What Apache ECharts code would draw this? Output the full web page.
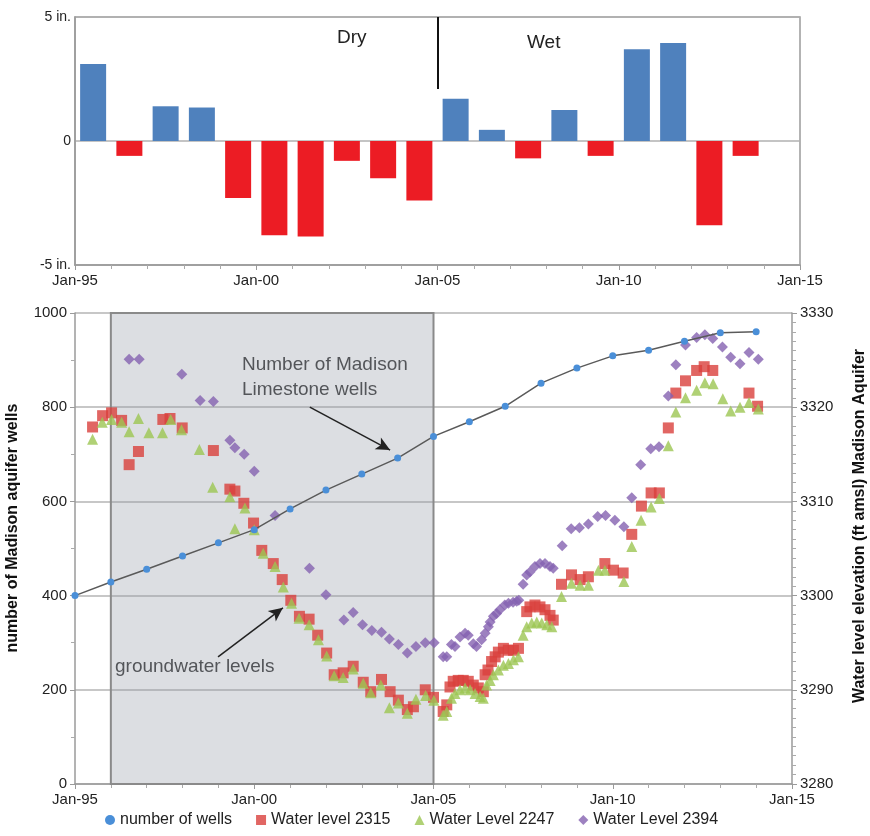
<!DOCTYPE html>
<html>
<head>
<meta charset="utf-8">
<script src="https://cdn.jsdelivr.net/npm/echarts@6/dist/echarts.min.js"></script>
<style>
  html, body { margin: 0; padding: 0; background: #fff; }
  #chart { width: 870px; height: 836px; }
</style>
</head>
<body>
<div id="chart"></div>
<script>
// precipitation departure (in.), one bar per year, centred in the year
var rainYears = [1995, 1996, 1997, 1998, 1999, 2000, 2001, 2002, 2003, 2004,
  2005, 2006, 2007, 2008, 2009, 2010, 2011, 2012, 2013];
var rainDeparture = [3.1, -0.6, 1.4, 1.35, -2.3, -3.8, -3.85, -0.8, -1.5, -2.4,
  1.7, 0.45, -0.7, 1.25, -0.6, 3.7, 3.95, -3.4, -0.6];

// number of Madison Limestone wells (left axis)
var wellYears = [1995, 1996, 1997, 1998, 1999, 2000, 2001, 2002, 2003, 2004,
  2005, 2006, 2007, 2008, 2009, 2010, 2011, 2012, 2013, 2014];
var wellCounts = [400, 429, 456, 484, 512, 540, 584, 624, 658, 692,
  738, 769, 802, 851, 883, 909, 921, 940, 958, 960];

// water levels, [decimal year, ft amsl] (right axis)
var level2315 = [
  [1995.49, 3317.9], [1995.77, 3319.1], [1996.02, 3319.4], [1996.3, 3318.6], [1996.51, 3313.9],
  [1996.77, 3315.3], [1997.45, 3318.7], [1997.65, 3318.8], [1997.99, 3317.8], [1998.86, 3315.4],
  [1999.32, 3311.3], [1999.46, 3311.1], [1999.71, 3309.8], [1999.98, 3307.7], [2000.21, 3304.8],
  [2000.53, 3303.4], [2000.78, 3301.7], [2001.02, 3299.5], [2001.26, 3297.8], [2001.53, 3297.5],
  [2001.77, 3295.8], [2002.02, 3293.9], [2002.23, 3291.6], [2002.48, 3291.8], [2002.76, 3292.5],
  [2003.04, 3290.8], [2003.25, 3289.8], [2003.55, 3291.1], [2003.79, 3289.8], [2004.02, 3288.9],
  [2004.27, 3287.9], [2004.44, 3288.2], [2004.77, 3290.0], [2005.0, 3289.2], [2005.27, 3287.7],
  [2005.37, 3288.4], [2005.46, 3290.3], [2005.55, 3290.9], [2005.69, 3291.0], [2005.83, 3291.0],
  [2005.97, 3290.9], [2006.11, 3290.5], [2006.25, 3290.2], [2006.39, 3289.8], [2006.44, 3291.6],
  [2006.52, 3292.1], [2006.62, 3293.0], [2006.72, 3293.5], [2006.81, 3294.0], [2006.95, 3294.4],
  [2007.09, 3294.2], [2007.23, 3294.2], [2007.37, 3294.4], [2007.6, 3298.3], [2007.69, 3298.8],
  [2007.83, 3299.0], [2007.97, 3298.8], [2008.11, 3298.5], [2008.25, 3297.9], [2008.34, 3297.4],
  [2008.57, 3301.2], [2008.85, 3302.2], [2009.09, 3301.7], [2009.32, 3302.0], [2009.78, 3303.4],
  [2010.02, 3302.7], [2010.29, 3302.4], [2010.53, 3306.5], [2010.8, 3309.5], [2011.07, 3310.9],
  [2011.3, 3310.9], [2011.55, 3317.8], [2011.76, 3321.5], [2012.03, 3322.8], [2012.34, 3323.9],
  [2012.55, 3324.3], [2012.79, 3323.9], [2013.8, 3321.5], [2014.04, 3320.1]
];
var level2247 = [
  [1995.49, 3316.6], [1995.76, 3318.4], [1996.02, 3318.7], [1996.3, 3318.4], [1996.51, 3317.4],
  [1996.77, 3318.8], [1997.06, 3317.3], [1997.44, 3317.3], [1997.67, 3318.7], [1997.97, 3317.6],
  [1998.47, 3315.5], [1998.84, 3311.5], [1999.32, 3310.5], [1999.46, 3307.1], [1999.74, 3309.3],
  [2000.0, 3307.0], [2000.25, 3304.5], [2000.58, 3303.1], [2000.81, 3300.9], [2001.04, 3299.2],
  [2001.25, 3297.6], [2001.53, 3296.9], [2001.79, 3295.3], [2002.02, 3293.6], [2002.23, 3291.5],
  [2002.48, 3291.3], [2002.76, 3292.2], [2003.04, 3290.7], [2003.25, 3289.7], [2003.53, 3290.5],
  [2003.77, 3288.1], [2004.02, 3288.6], [2004.27, 3287.5], [2004.51, 3289.0], [2004.78, 3289.4],
  [2005.01, 3288.9], [2005.27, 3287.3], [2005.37, 3287.7], [2005.5, 3289.1], [2005.6, 3289.6],
  [2005.74, 3290.0], [2005.88, 3290.2], [2006.02, 3290.0], [2006.16, 3289.6], [2006.3, 3289.3],
  [2006.39, 3289.1], [2006.48, 3290.5], [2006.58, 3291.0], [2006.67, 3291.6], [2006.81, 3292.1],
  [2006.95, 3292.6], [2007.09, 3292.8], [2007.23, 3293.2], [2007.37, 3293.5], [2007.5, 3295.8],
  [2007.6, 3296.7], [2007.74, 3297.1], [2007.88, 3297.2], [2008.02, 3297.1], [2008.16, 3296.9],
  [2008.3, 3296.7], [2008.57, 3299.9], [2008.85, 3301.3], [2009.09, 3301.1], [2009.32, 3301.1],
  [2009.6, 3302.7], [2009.78, 3302.7], [2010.31, 3301.5], [2010.53, 3305.2], [2010.79, 3308.0],
  [2011.07, 3309.4], [2011.3, 3310.3], [2011.55, 3315.9], [2011.76, 3319.5], [2012.03, 3321.0],
  [2012.34, 3321.8], [2012.57, 3322.6], [2012.8, 3322.5], [2013.07, 3320.9], [2013.29, 3319.6],
  [2013.55, 3320.0], [2013.8, 3320.5], [2014.06, 3319.8]
];
var level2394 = [
  [1996.51, 3325.1], [1996.79, 3325.1], [1997.98, 3323.5], [1998.49, 3320.7], [1998.86, 3320.6],
  [1999.32, 3316.5], [1999.46, 3315.7], [1999.72, 3315.0], [2000.0, 3313.2], [2000.58, 3308.5],
  [2001.54, 3302.9], [2002.0, 3300.1], [2002.5, 3297.4], [2002.76, 3298.2], [2003.02, 3296.9],
  [2003.28, 3296.3], [2003.55, 3296.1], [2003.77, 3295.4], [2004.02, 3294.8], [2004.27, 3293.9],
  [2004.51, 3294.6], [2004.77, 3295.0], [2005.02, 3295.0], [2005.27, 3293.5], [2005.37, 3293.5],
  [2005.5, 3294.8], [2005.6, 3294.6], [2005.74, 3295.6], [2005.88, 3296.0], [2005.97, 3295.8],
  [2006.11, 3294.9], [2006.2, 3294.6], [2006.34, 3295.3], [2006.44, 3296.0], [2006.53, 3296.7],
  [2006.58, 3297.2], [2006.67, 3297.8], [2006.76, 3298.1], [2006.85, 3298.5], [2006.99, 3299.0],
  [2007.09, 3299.2], [2007.22, 3299.3], [2007.32, 3299.4], [2007.38, 3299.5], [2007.5, 3301.2],
  [2007.6, 3302.2], [2007.69, 3302.5], [2007.83, 3303.1], [2007.97, 3303.4], [2008.11, 3303.4],
  [2008.25, 3303.1], [2008.34, 3302.9], [2008.59, 3305.3], [2008.84, 3307.1], [2009.07, 3307.2],
  [2009.32, 3307.6], [2009.58, 3308.4], [2009.8, 3308.5], [2010.06, 3308.0], [2010.31, 3307.3],
  [2010.53, 3310.4], [2010.78, 3313.9], [2011.06, 3315.6], [2011.29, 3315.8], [2011.55, 3321.2],
  [2011.76, 3324.5], [2012.03, 3326.6], [2012.34, 3327.4], [2012.57, 3327.7], [2012.79, 3327.3],
  [2013.06, 3326.4], [2013.29, 3325.3], [2013.55, 3324.6], [2013.8, 3325.8], [2014.06, 3325.1]
];

var xTicks = { 1995: 'Jan-95', 2000: 'Jan-00', 2005: 'Jan-05', 2010: 'Jan-10', 2015: 'Jan-15' };
var FONT = 'Liberation Sans';

var chart = echarts.init(document.getElementById('chart'));

var barData = rainYears.map(function (y, i) {
  var v = rainDeparture[i];
  return { value: [y + 0.5, v], itemStyle: { color: v >= 0 ? '#4f81bd' : '#ec1c24' } };
});

function plain(v) { return String(v); }

function timeAxis(gridIndex) {
  return {
    type: 'value', gridIndex: gridIndex, min: 1995, max: 2015, interval: 5,
    axisLine: { onZero: false, lineStyle: { color: '#9a9a9a', width: 1.5 } },
    axisTick: { show: true, length: 5, lineStyle: { color: '#9a9a9a' } },
    minorTick: { show: true, splitNumber: 5, length: 4, lineStyle: { color: '#aaa' } },
    splitLine: { show: false },
    axisLabel: {
      color: '#222', fontFamily: FONT, fontSize: 15, margin: 8,
      formatter: function (v) { return xTicks[v] || ''; }
    }
  };
}

var option = {
  animation: false,
  backgroundColor: '#fff',
  textStyle: { fontFamily: FONT },
  grid: [
    { left: 75, right: 70, top: 17, height: 248, show: true, borderColor: '#9a9a9a', borderWidth: 1.5, outerBoundsMode: 'none' },
    { left: 75, right: 78, top: 313, bottom: 52, outerBoundsMode: 'none' }
  ],
  xAxis: [timeAxis(0), timeAxis(1)],
  yAxis: [
    {
      type: 'value', gridIndex: 0, min: -5, max: 5, interval: 5,
      axisLine: { show: true, lineStyle: { color: '#9a9a9a', width: 1.5 } },
      axisTick: { show: false },
      splitLine: { show: true, lineStyle: { color: '#b0b0b0', width: 1.5 } },
      axisLabel: {
        color: '#222', fontFamily: FONT, fontSize: 14, margin: 4,
        formatter: function (v) { return v === 0 ? '0' : v + ' in.'; }
      }
    },
    {
      type: 'value', gridIndex: 1, min: 0, max: 1000, interval: 200,
      axisLine: { show: true, lineStyle: { color: '#9a9a9a', width: 1.5 } },
      axisTick: { show: true, length: 5, lineStyle: { color: '#9a9a9a' } },
      minorTick: { show: true, splitNumber: 2, length: 4, lineStyle: { color: '#aaa' } },
      splitLine: { show: true, lineStyle: { color: '#b5b5b5', width: 1.5 } },
      axisLabel: { color: '#222', fontFamily: FONT, fontSize: 15, margin: 8, formatter: plain }
    },
    {
      type: 'value', gridIndex: 1, min: 3280, max: 3330, interval: 10, position: 'right',
      axisLine: { show: true, lineStyle: { color: '#9a9a9a', width: 1.5 } },
      axisTick: { show: true, length: 5, lineStyle: { color: '#9a9a9a' } },
      minorTick: { show: true, splitNumber: 10, length: 4, lineStyle: { color: '#aaa' } },
      splitLine: { show: false },
      axisLabel: { color: '#222', fontFamily: FONT, fontSize: 15, margin: 8, formatter: plain }
    }
  ],
  legend: {
    bottom: 3, left: 100, itemWidth: 10, itemHeight: 10, itemGap: 24,
    textStyle: { color: '#222', fontFamily: FONT, fontSize: 16 },
    data: [
      { name: 'number of wells', icon: 'circle' },
      { name: 'Water level 2315', icon: 'rect' },
      { name: 'Water Level 2247', icon: 'triangle' },
      { name: 'Water Level 2394', icon: 'diamond' }
    ]
  },
  series: [
    {
      name: 'precipitation', type: 'bar', xAxisIndex: 0, yAxisIndex: 0,
      barWidth: 26, data: barData,
      markLine: {
        silent: true, symbol: ['none', 'none'], label: { show: false },
        lineStyle: { color: '#111', width: 2, type: 'solid' },
        data: [[{ coord: [2005, 5] }, { coord: [2005, 2.1] }]]
      }
    },
    {
      name: 'Water level 2315', type: 'scatter', xAxisIndex: 1, yAxisIndex: 2,
      symbol: 'rect', symbolSize: 11, itemStyle: { color: '#d9403c' }, data: level2315,
      markArea: {
        silent: true,
        itemStyle: { color: 'rgba(150,155,168,0.33)', borderColor: '#8a8a8a', borderWidth: 2 },
        data: [[{ coord: [1996, 3280] }, { coord: [2005, 3330] }]]
      }
    },
    {
      name: 'Water Level 2247', type: 'scatter', xAxisIndex: 1, yAxisIndex: 2,
      symbol: 'triangle', symbolSize: 11, itemStyle: { color: '#9cc653' }, data: level2247
    },
    {
      name: 'Water Level 2394', type: 'scatter', xAxisIndex: 1, yAxisIndex: 2,
      symbol: 'diamond', symbolSize: 11, itemStyle: { color: '#8462b0' }, data: level2394
    },
    {
      name: 'number of wells', type: 'line', xAxisIndex: 1, yAxisIndex: 1,
      symbol: 'circle', symbolSize: 7, showSymbol: true,
      lineStyle: { color: '#5a5a5a', width: 1.5 },
      itemStyle: { color: '#4a8fd8' },
      data: wellYears.map(function (y, i) { return [y, wellCounts[i]]; }),
      markLine: {
        silent: true, symbol: ['none', 'arrow'], symbolSize: [10, 14], label: { show: false },
        lineStyle: { color: '#222', width: 1.5, type: 'solid' },
        data: [
          [{ coord: [2001.55, 800] }, { coord: [2003.79, 709] }],
          [{ coord: [1998.99, 270] }, { coord: [2000.8, 374] }]
        ]
      }
    }
  ],
  graphic: [
    { type: 'text', left: 337, top: 28, style: { text: 'Dry', fontFamily: FONT, fontSize: 19, fill: '#222' } },
    { type: 'text', left: 527, top: 33, style: { text: 'Wet', fontFamily: FONT, fontSize: 19, fill: '#222' } },
    { type: 'text', left: 242, top: 352, style: { text: 'Number of Madison\nLimestone wells', lineHeight: 25, fontFamily: FONT, fontSize: 19, fill: '#333' } },
    { type: 'text', left: 115, top: 657, style: { text: 'groundwater levels', fontFamily: FONT, fontSize: 19, fill: '#333' } },
    {
      type: 'text', x: 13, y: 528, rotation: Math.PI / 2,
      style: { text: 'number of Madison aquifer wells', fontFamily: FONT, fontSize: 16, fontWeight: 'bold', fill: '#111', align: 'center', verticalAlign: 'middle' }
    },
    {
      type: 'text', x: 860, y: 526, rotation: Math.PI / 2,
      style: { text: 'Water level elevation (ft amsl) Madison Aquifer', fontFamily: FONT, fontSize: 16, fontWeight: 'bold', fill: '#111', align: 'center', verticalAlign: 'middle' }
    }
  ]
};

chart.setOption(option);
</script>
</body>
</html>
